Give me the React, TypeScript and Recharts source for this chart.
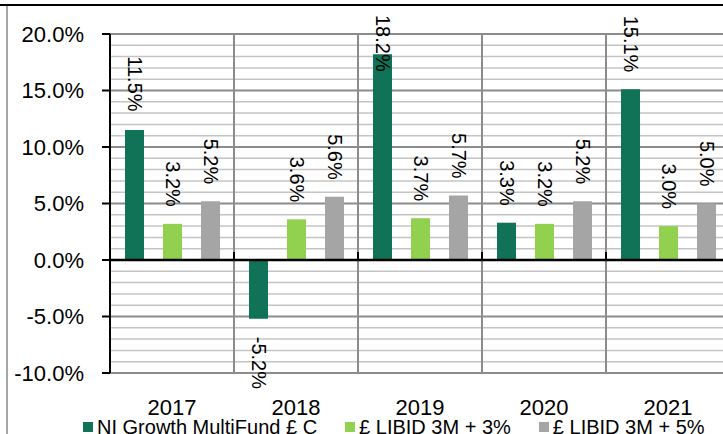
import React from "react";
import {
  BarChart,
  Bar,
  XAxis,
  YAxis,
  CartesianGrid,
  ReferenceLine,
  Legend,
  LabelList,
} from "recharts";

const years = ["2017", "2018", "2019", "2020", "2021"];
const fundReturns = [11.5, -5.2, 18.2, 3.3, 15.1];
const libidPlus3 = [3.2, 3.6, 3.7, 3.2, 3.0];
const libidPlus5 = [5.2, 5.6, 5.7, 5.2, 5.0];

const majorTicks = [-10, -5, 0, 5, 10, 15, 20];
const minorTicks = [
  -9, -8, -7, -6, -4, -3, -2, -1, 1, 2, 3, 4, 6, 7, 8, 9, 11, 12, 13, 14, 16,
  17, 18, 19,
];

const FONT = '"Liberation Sans", Arial, sans-serif';

const data = years.map((year, i) => ({
  year,
  fund: fundReturns[i],
  libid3: libidPlus3[i],
  libid5: libidPlus5[i],
}));

const pct = (v: number) => `${v.toFixed(1)}%`;

// rough Arial widths, only used to keep the tall labels inside the chart
const textWidth = (s: string, size: number) => {
  let w = 0;
  for (const ch of s) {
    if (ch === ".") w += 0.278;
    else if (ch === "%") w += 0.889;
    else if (ch === "-") w += 0.333;
    else w += 0.556;
  }
  return w * size;
};

const LABEL_SIZE = 20;

const VerticalLabel = (props: any) => {
  const { x, y, width, height, value } = props;
  if (value == null) return null;
  const cx = Number(x) + Number(width) / 2;
  const top = Math.min(Number(y), Number(y) + Number(height));
  const bottom = Math.max(Number(y), Number(y) + Number(height));
  const text = pct(Number(value));
  const w = textWidth(text, LABEL_SIZE);
  let start: number;
  if (Number(value) >= 0) {
    start = Math.max(15, top - 17 - w);
  } else {
    start = bottom + 18;
  }
  return (
    <text
      x={cx}
      y={start}
      transform={`rotate(90 ${cx} ${start})`}
      textAnchor="start"
      dominantBaseline="central"
      fontSize={LABEL_SIZE}
      fontFamily={FONT}
      fill="#000"
    >
      {text}
    </text>
  );
};

const ZeroTicks = (props: any) => {
  const vb = props.viewBox;
  if (!vb) return null;
  const n = years.length;
  const step = vb.width / n;
  return (
    <g>
      {years.map((_, i) => (
        <line
          key={i}
          x1={vb.x + i * step}
          x2={vb.x + i * step}
          y1={vb.y - 8}
          y2={vb.y}
          stroke="#000"
          strokeWidth={2}
        />
      ))}
    </g>
  );
};

const LegendContent = (props: any) => {
  const { payload } = props;
  return (
    <div
      style={{
        display: "flex",
        gap: 28,
        fontFamily: FONT,
        fontSize: 20,
        lineHeight: "24px",
        color: "#000",
        whiteSpace: "nowrap",
      }}
    >
      {(payload || []).map((p: any) => (
        <div key={p.value} style={{ display: "flex", alignItems: "center" }}>
          <span
            style={{
              display: "inline-block",
              width: 10,
              height: 10,
              background: p.color,
              marginRight: 4,
            }}
          />
          <span>{p.value}</span>
        </div>
      ))}
    </div>
  );
};

export default function App() {
  return (
    <div
      style={{
        position: "absolute",
        left: 0,
        top: 0,
        width: 723,
        height: 434,
        overflow: "hidden",
        background: "#fff",
        fontFamily: FONT,
      }}
    >
      <div
        style={{
          position: "absolute",
          left: 0,
          top: 4,
          width: 723,
          height: 2,
          background: "#000",
        }}
      />
      <div
        style={{
          position: "absolute",
          left: 6,
          top: 6,
          width: 2,
          height: 428,
          background: "#a6a6a6",
        }}
      />
      <div style={{ position: "absolute", left: 0, top: 0 }}>
        <BarChart
          width={740}
          height={434}
          data={data}
          margin={{ top: 34, right: 10, bottom: 21, left: 0 }}
          barSize={19}
          barGap={19}
          style={{ fontFamily: FONT }}
        >
          <CartesianGrid
            vertical={false}
            stroke="#c4c4c4"
            strokeWidth={1.5}
            horizontalCoordinatesGenerator={({ yAxis, offset }: any) => {
              const s = yAxis?.scale;
              return minorTicks.map((v) =>
                typeof s === "function"
                  ? s(v)
                  : offset.top + ((20 - v) / 30) * offset.height
              );
            }}
          />
          <CartesianGrid
            stroke="#8c8c8c"
            strokeWidth={2}
            verticalCoordinatesGenerator={({ offset }: any) => {
              const left = offset?.left ?? 110;
              const w = offset?.width ?? 620;
              return [...years.map((_, i) => left + (i * w) / years.length), left + w];
            }}
          />
          <XAxis
            dataKey="year"
            height={40}
            axisLine={false}
            tickLine={false}
            tickSize={0}
            tickMargin={26}
            tick={{ fontSize: 22, fill: "#000", fontFamily: FONT }}
          />
          <YAxis
            width={110}
            domain={[-10, 20]}
            ticks={majorTicks}
            tickFormatter={pct}
            interval={0}
            axisLine={{ stroke: "#000", strokeWidth: 2 }}
            tickLine={{ stroke: "#000", strokeWidth: 2 }}
            tickSize={8}
            tickMargin={18}
            tick={{ fontSize: 22, fill: "#000", fontFamily: FONT }}
          />
          <Legend
            verticalAlign="middle"
            align="center"
            layout="horizontal"
            wrapperStyle={{ top: 415, left: 83, width: 640 }}
            content={<LegendContent />}
          />
          <Bar
            dataKey="fund"
            name="NI Growth MultiFund £ C"
            fill="#107257"
            isAnimationActive={false}
          >
            <LabelList dataKey="fund" content={<VerticalLabel />} />
          </Bar>
          <Bar
            dataKey="libid3"
            name="£ LIBID 3M + 3%"
            fill="#92d050"
            isAnimationActive={false}
          >
            <LabelList dataKey="libid3" content={<VerticalLabel />} />
          </Bar>
          <Bar
            dataKey="libid5"
            name="£ LIBID 3M + 5%"
            fill="#a5a5a5"
            isAnimationActive={false}
          >
            <LabelList dataKey="libid5" content={<VerticalLabel />} />
          </Bar>
          <ReferenceLine
            y={0}
            stroke="#000"
            strokeWidth={2.5}
            label={<ZeroTicks />}
          />
        </BarChart>
      </div>
    </div>
  );
}
